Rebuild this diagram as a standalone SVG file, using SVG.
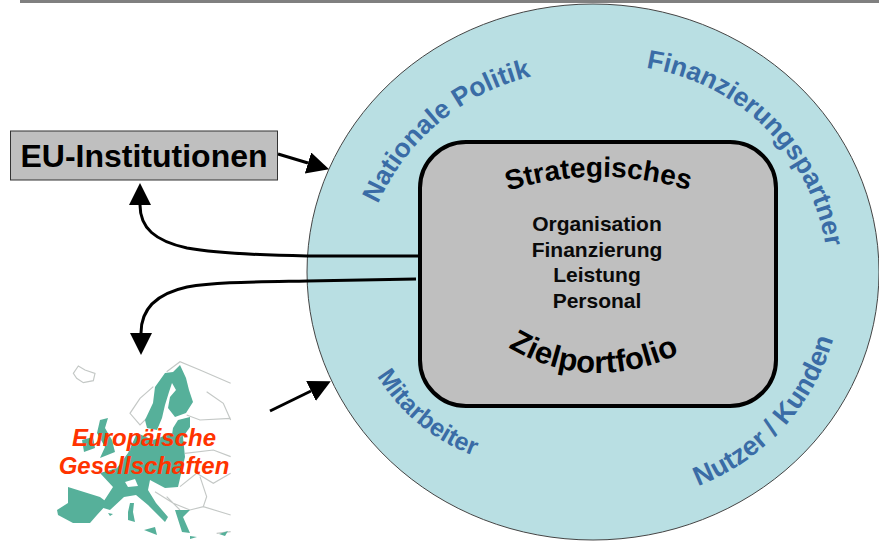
<svg xmlns="http://www.w3.org/2000/svg" width="879" height="543" viewBox="0 0 879 543">
<defs>
<style>
text{font-family:"Liberation Sans",Arial,sans-serif;font-weight:700}
.blue{fill:#3a6ca6;font-size:26.500px}
.inner{fill:#0a0a0a;font-size:21px;text-anchor:middle}
.arc{fill:#000;font-size:28px}
.conn{fill:none;stroke:#000;stroke-width:3}
.eu{fill:#56b09a;stroke:#56b09a;stroke-width:6;stroke-linejoin:round}
.grey{fill:none;stroke:#c4c8c6;stroke-width:3.500}
.red{fill:#ff3300;font-size:24px;font-style:italic;text-anchor:middle}
</style>
<marker id="a" markerUnits="userSpaceOnUse" markerWidth="24" markerHeight="24" refX="0" refY="11" orient="auto"><path d="M0,0L22,11L0,22Z" fill="#000"/></marker>
<path id="p1" d="M378,204A225,225 0 0 1 556,72"/>
<path id="p2" d="M646,68A215,215 0 0 1 828,268"/>
<path id="p3" d="M377,376A190,190 0 0 0 495,462"/>
<path id="p4" d="M698,486A225,225 0 0 0 838,320"/>
<path id="p5" d="M508,191Q600,162 695,192"/>
<path id="p6" d="M508,347Q595,399 694,347"/>
</defs>
<rect x="20" y="0" width="859" height="3" fill="#808080"/>
<g id="circle"><ellipse cx="593" cy="272" rx="286" ry="268" fill="#b9dfe3" stroke="#444" stroke-width="1"/>
<text class="blue"><textPath href="#p1">Nationale Politik</textPath></text>
<text class="blue"><textPath href="#p2">Finanzierungspartner</textPath></text>
<text class="blue" style="font-size:25px"><textPath href="#p3">Mitarbeiter</textPath></text>
<text class="blue" style="font-size:27px"><textPath href="#p4">Nutzer / Kunden</textPath></text>
</g>
<g id="connectors">
<path class="conn" d="M418,256L307,256C250,255 215,253 187,248C155,241 140,228 140,205" marker-end="url(#a)"/>
<path class="conn" d="M416,279L307,281C250,282 215,282 187,287C155,294 141,310 141,333" marker-end="url(#a)"/>
<path class="conn" d="M278,154L308,163" marker-end="url(#a)"/>
<path class="conn" d="M270,411L311,391" marker-end="url(#a)"/>
</g>
<g id="core"><rect x="420" y="142" width="356" height="264" rx="46" fill="#bfbfbf" stroke="#000" stroke-width="4"/>
<text class="arc"><textPath href="#p5">Strategisches</textPath></text>
<text class="arc" style="font-size:31px"><textPath href="#p6">Zielportfolio</textPath></text>
<text class="inner" x="597" y="231">Organisation</text>
<text class="inner" x="597" y="257">Finanzierung</text>
<text class="inner" x="597" y="282">Leistung</text>
<text class="inner" x="597" y="308">Personal</text>
</g>
<g id="eu-institutionen"><rect x="10.500" y="131" width="267" height="49" fill="#bfbfbf" stroke="#333" stroke-width="1"/>
<text x="144" y="167" text-anchor="middle" font-size="32" fill="#000">EU-Institutionen</text></g>
<g id="europaeische-gesellschaften">
<path class="grey" transform="translate(40,340) scale(.3333)" d="M100,100L115,78L135,90L165,100L160,122L130,128L110,115Z"/>
<path class="grey" transform="translate(40,340) scale(.3333)" d="M380,95L420,65L480,90L572,130M340,140L300,175L270,220L300,255L320,235M500,155L550,190L572,240M440,225L480,240L572,235M435,340L520,330L572,350M420,440L470,400L520,430L572,400M345,455L400,490L450,510L490,500L572,525M480,410L500,470L490,500M380,470L420,510M530,580L572,575"/>
<path fill="#56b09a" d="M153,403L155,387L165,373L173,372L180,365L186,378L189,390L193,402L186,413L175,417L168,408L170,397L176,390L172,383L169,392L165,405L162,418L157,430L147,428L145,420Z"/>
<path fill="#56b09a" d="M178,420L190,417L190,427L183,437L172,435L173,428Z"/>
<path fill="#56b09a" d="M100,420L108,418L105,428L112,440L115,452L100,458L105,447L97,433Z"/>
<path fill="#56b09a" d="M82,440L93,437L95,448L84,452Z"/>
<path fill="#56b09a" d="M128,453L137,433L153,440L172,433L183,437L185,457L178,487L165,488L150,480L148,490L156,503L168,517L165,522L148,505L136,495L124,497L110,510L100,507L113,487L100,473L117,468Z"/>
<path fill="#56b09a" d="M68,487L100,497L108,503L97,515L90,523L73,523L58,515L57,510L68,503Z"/>
<path fill="#56b09a" d="M175,510L190,510L183,517L190,533L182,532Z"/>
<path fill="#56b09a" d="M130,503L134,503L133,512L135,522L128,520L128,512Z"/>
<path fill="#56b09a" d="M144,530L155,527L157,535Z"/>
<path fill="#56b09a" d="M108,513L113,514L110,516Z"/>
<path fill="#56b09a" d="M190,536L197,537L190,539Z"/>
<path fill="#56b09a" d="M219,534L228,531L225,536Z"/>
<path fill="#fff" d="M125,482L135,479L138,486L128,487Z"/>
<text class="red" x="144" y="446">Europäische</text>
<text class="red" x="144" y="474">Gesellschaften</text>
</g>
</svg>
